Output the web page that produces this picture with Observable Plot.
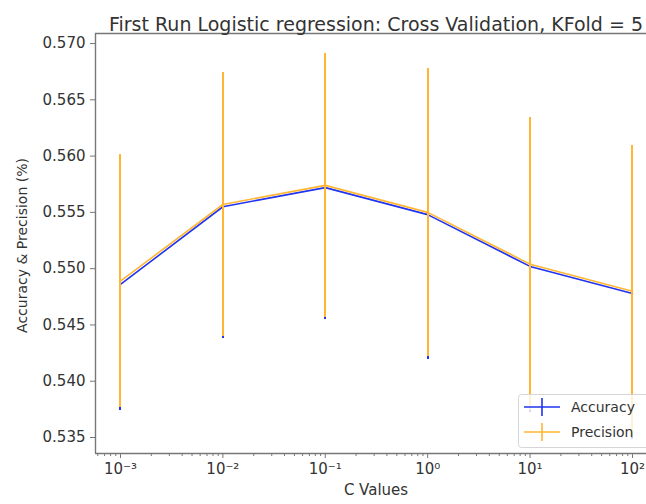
<!DOCTYPE html>
<html>
<head>
<meta charset="utf-8">
<script src="https://cdn.jsdelivr.net/npm/d3@7"></script>
<script src="https://cdn.jsdelivr.net/npm/@observablehq/plot@0.6"></script>
<style>
  html, body { margin: 0; padding: 0; background: white; }
  #chart { width: 646px; height: 504px; overflow: hidden; }
</style>
</head>
<body>
<div id="chart"></div>
<script>
// ---- data ----
const cValues = [0.001, 0.01, 0.1, 1, 10, 100];
const accuracyMean = [0.5486, 0.5555, 0.5572, 0.5548, 0.5502, 0.5478];
const accuracyStd  = [0.0112, 0.0117, 0.0117, 0.0129, 0.0130, 0.0130];
const precisionMean = [0.5489, 0.5557, 0.5574, 0.5550, 0.5504, 0.5480];
const precisionStd  = [0.0112, 0.0117, 0.0117, 0.0128, 0.0130, 0.0129];
const yTicks = [0.535, 0.540, 0.545, 0.550, 0.555, 0.560, 0.565, 0.570];
const xTicks = [0.001, 0.01, 0.1, 1, 10, 100];
const xTickLabels = ["10\u207B\u00B3", "10\u207B\u00B2", "10\u207B\u00B9", "10\u2070", "10\u00B9", "10\u00B2"];
const titleText = "First Run Logistic regression: Cross Validation, KFold = 5";
const xLabel = "C Values";
const yLabel = "Accuracy & Precision (%)";
const seriesNames = ["Accuracy", "Precision"];

// ---- build tables ----
const acc = cValues.map((c, i) => ({c, mean: accuracyMean[i], lo: accuracyMean[i] - accuracyStd[i], hi: accuracyMean[i] + accuracyStd[i]}));
const prec = cValues.map((c, i) => ({c, mean: precisionMean[i], lo: precisionMean[i] - precisionStd[i], hi: precisionMean[i] + precisionStd[i]}));

const minorTicks = [];
for (let e = -4; e <= 2; e++) for (let m = 2; m <= 9; m++) minorTicks.push(m * Math.pow(10, e));

const xDomain = [Math.pow(10, -3.244), Math.pow(10, 2.137)];
const yDomain = [0.53358, 0.57089];
const blue = "#1f33f0";
const orange = "#ffb733";
const ink = "#333333";
const spine = "#777777";

const chart = Plot.plot({
  width: 646,
  height: 504,
  marginLeft: 95,
  marginRight: 0,
  marginTop: 33,
  marginBottom: 51,
  style: {fontFamily: "DejaVu Sans", fontSize: "15px", color: ink, background: "white", overflow: "visible"},
  x: {type: "log", domain: xDomain},
  y: {domain: yDomain},
  marks: [
    Plot.axisY({ticks: yTicks, tickFormat: d3.format(".3f"), tickSize: 5, tickPadding: 5, label: null, stroke: spine, fontSize: 15}),
    Plot.axisX({ticks: xTicks, tickFormat: d => xTickLabels[xTicks.indexOf(d)], tickSize: 5, tickPadding: 5, label: null, stroke: spine, fontSize: 15}),
    Plot.axisX({ticks: minorTicks.filter(t => t >= xDomain[0] && t <= xDomain[1]), tickFormat: () => "", tickSize: 3, label: null, stroke: spine}),
    Plot.line(acc, {x: "c", y: "mean", stroke: blue, strokeWidth: 1.6}),
    Plot.ruleX(acc, {x: "c", y1: "lo", y2: "hi", stroke: blue, strokeWidth: 2, shapeRendering: "crispEdges"}),
    Plot.line(prec, {x: "c", y: "mean", stroke: orange, strokeWidth: 1.6}),
    Plot.ruleX(prec, {x: "c", y1: "lo", y2: "hi", stroke: orange, strokeWidth: 2, shapeRendering: "crispEdges"}),
    Plot.ruleX([xDomain[0]], {stroke: spine, strokeWidth: 1.4}),
    Plot.ruleY([yDomain[0], yDomain[1]], {stroke: spine, strokeWidth: 1.4}),
    Plot.text([titleText], {text: d => d, frameAnchor: "top", textAnchor: "middle", dx: 5, dy: -16, fontSize: 19, fill: ink}),
    Plot.text([xLabel], {text: d => d, frameAnchor: "bottom", textAnchor: "middle", dx: 5, dy: 41, fontSize: 15, fill: ink}),
    Plot.text([yLabel], {text: d => d, frameAnchor: "left", textAnchor: "middle", rotate: -90, dx: -73, dy: 2, fontSize: 14, fill: ink})
  ]
});

// legend (matplotlib-style box)
const svg = d3.select(chart);
const lg = svg.append("g").attr("font-family", "DejaVu Sans").attr("font-size", 14).attr("text-anchor", "start");
lg.append("rect").attr("x", 518.5).attr("y", 394.5).attr("width", 160).attr("height", 53)
  .attr("rx", 3).attr("fill", "white").attr("fill-opacity", 0.8).attr("stroke", "#d6d6d6");
const colors = [blue, orange];
seriesNames.forEach((name, i) => {
  const cy = 407 + i * 25;
  lg.append("line").attr("x1", 524).attr("x2", 560).attr("y1", cy).attr("y2", cy).attr("stroke", colors[i]).attr("stroke-width", 1.6);
  lg.append("line").attr("x1", 542).attr("x2", 542).attr("y1", cy - 9).attr("y2", cy + 9).attr("stroke", colors[i]).attr("stroke-width", 1.6);
  lg.append("text").attr("x", 571).attr("y", cy).attr("dy", "0.35em").attr("text-anchor", "start").attr("fill", ink).text(name);
});

document.getElementById("chart").appendChild(chart);
</script>
</body>
</html>
